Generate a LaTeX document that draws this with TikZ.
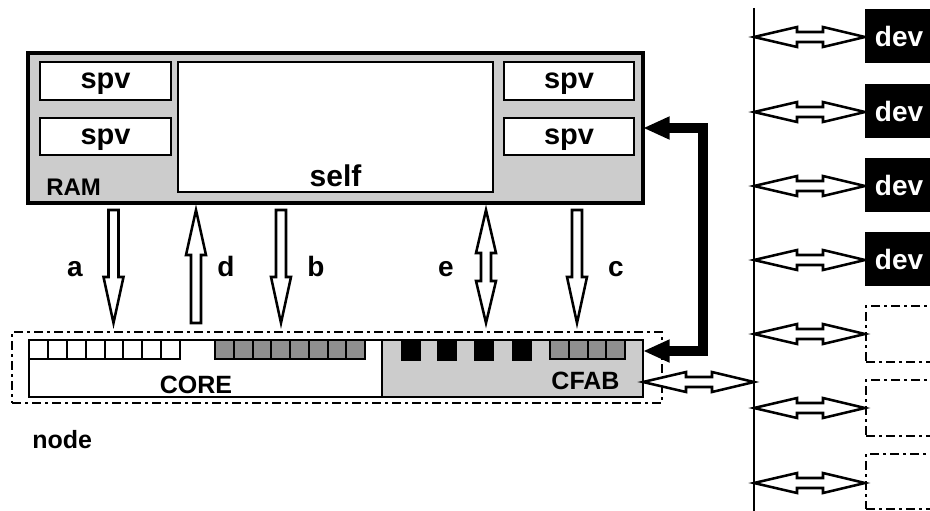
\documentclass[tikz,border=0pt]{standalone}
\usepackage{fontspec}
\setmainfont{Liberation Sans}
\usetikzlibrary{fit,arrows.meta}
\definecolor{lgray}{HTML}{CCCCCC}
\definecolor{dgray}{HTML}{8F8F8F}
\newcommand\pxfont[1]{\fontsize{#1}{#1}\selectfont\bfseries}
% vertical hollow arrow pointing down: x, ytop, ybottom
\newcommand\hollowdown[3]{%
  \draw[hollow] ({#1-5},#2) -- ({#1+5},#2) -- ({#1+5},{#3-46}) -- ({#1+10},{#3-46}) -- (#1,#3)
    -- ({#1-10},{#3-46}) -- ({#1-5},{#3-46}) -- cycle;}
% vertical hollow arrow pointing up
\newcommand\hollowup[3]{%
  \draw[hollow] ({#1-5},#3) -- ({#1+5},#3) -- ({#1+5},{#2+45}) -- ({#1+10},{#2+45}) -- (#1,#2)
    -- ({#1-10},{#2+45}) -- ({#1-5},{#2+45}) -- cycle;}
% vertical hollow double arrow
\newcommand\hollowud[3]{%
  \draw[hollow] (#1,#2) -- ({#1+10},{#2+43}) -- ({#1+5},{#2+43}) -- ({#1+5},{#3-42}) -- ({#1+10},{#3-42})
    -- (#1,#3) -- ({#1-10},{#3-42}) -- ({#1-5},{#3-42}) -- ({#1-5},{#2+43}) -- ({#1-10},{#2+43}) -- cycle;}
% horizontal hollow double arrow: x1, x2, y
\newcommand\hollowlr[3]{%
  \draw[hollow] (#1,#3) -- ({#1+43},{#3-10}) -- ({#1+43},{#3-5}) -- ({#2-42},{#3-5}) -- ({#2-42},{#3-10})
    -- (#2,#3) -- ({#2-42},{#3+10}) -- ({#2-42},{#3+5}) -- ({#1+43},{#3+5}) -- ({#1+43},{#3+10}) -- cycle;}
\tikzset{
  x=0.75pt, y=-0.75pt,
  box/.style={inner sep=0pt, draw, line width=1.9pt, fill=white},
  rambox/.style={inner sep=0pt, draw, line width=2.4pt, fill=lgray},
  dashdot/.style={draw, line width=2pt, dash pattern=on 7pt off 3pt on 2pt off 3pt},
  hollow/.style={draw, fill=white, line width=1.9pt, line join=miter},
  sq/.style={draw, line width=1.5pt},
  txt/.style={font=\pxfont{#1}, inner sep=0pt, anchor=base},
  lbl/.style={txt=21},
  devbox/.style={inner sep=0pt, fill=black},
  thickarrow/.style={line width=7.5pt, line join=miter,
     {Triangle[length=20pt,width=16pt]}-{Triangle[length=20pt,width=16pt]}},
}
\begin{document}
\begin{tikzpicture}
\useasboundingbox (0,0) rectangle (930,510);
\clip (0,0) rectangle (930,510);
% RAM
\node[rambox, fit={(28,53)(643,203)}] (ram) {};
\node[box, fit={(40,62)(171,100)}] (spv1) {};
\node[box, fit={(40,118)(171,155)}] (spv2) {};
\node[box, fit={(504,62)(634,100)}] (spv3) {};
\node[box, fit={(504,118)(634,155)}] (spv4) {};
\node[box, fit={(178,62)(493,192)}] (self) {};
\node[txt=21.75] (spv1t) at (spv1 |- 0,89) {spv};
\node[txt=21.75] (spv2t) at (spv2 |- 0,144) {spv};
\node[txt=21.75] (spv3t) at (spv3 |- 0,89) {spv};
\node[txt=21.75] (spv4t) at (spv4 |- 0,144) {spv};
\node[txt=22.5] (selft) at (335.5,186) {self};
\node[txt=18, anchor=base west] (ramt) at (46,195) {RAM};
% node
\node[dashdot, inner sep=0pt, fit={(12,332)(662,403)}] (nodebox) {};
\node[box, fit={(29,340)(382,397)}] (core) {};
\node[rambox, line width=1.9pt, fit={(382,340)(643,397)}] (cfab) {};
\foreach \i in {0,...,7} {
  \draw[sq, fill=white] ({29+\i*18.875},340) rectangle ++(18.875,19);
  \draw[sq, fill=dgray] ({215+\i*18.75},340) rectangle ++(18.75,19);
}
\foreach \i in {0,...,3} {
  \draw[sq, fill=dgray] ({550+\i*18.75},340) rectangle ++(18.75,19);
}
\foreach \xx in {401,437,474,512} {
  \fill[black] (\xx,340) rectangle ++(20,21);
}
\node[txt=18.75] (coret) at (196,393) {CORE};
\node[txt=18.75] (cfabt) at (585.5,389) {CFAB};
\node[txt=18.75, anchor=base west] (nodet) at (32,448) {node};
% hollow arrows RAM <-> node
\hollowdown{113.5}{210}{323}
\hollowup{196}{210}{323}
\hollowdown{281}{210}{323}
\hollowud{486}{210}{323}
\hollowdown{577}{210}{323}
\node[lbl] (la) at (75,276) {a};
\node[lbl] (ld) at (226,276) {d};
\node[lbl] (lb) at (316,276) {b};
\node[lbl] (le) at (446,276) {e};
\node[lbl] (lc) at (616,276) {c};
% thick arrow
\coordinate (ramin) at (643,128);
\coordinate (cfabin) at (643,351);
\draw[thickarrow] (ramin) -- (703,128) -- (703,351) -- (cfabin);
% bus
\coordinate (bustop) at (754,8);
\coordinate (busbot) at (754,512);
\draw[line width=1.8pt] (bustop) -- (busbot);
\hollowlr{643}{754}{382}
% devices
\foreach \yt/\yb/\n in {9/63/d1, 84/138/d2, 158/212/d3, 232/286/d4} {
  \node[devbox, fit={(865,\yt)(945,\yb)}] (\n) {};
  \node[txt=21, text=white] at (899,{(\yt+\yb)/2+10}) {dev};
}
\foreach \yt/\yb/\n in {306/362/e1, 380/436/e2, 454/509/e3} {
  \node[dashdot, inner sep=0pt, fit={(866,\yt)(945,\yb)}] (\n) {};
}
\foreach \yy in {37,112,186,260,334,408,483} {
  \hollowlr{754}{865}{\yy}
}
\end{tikzpicture}
\end{document}
